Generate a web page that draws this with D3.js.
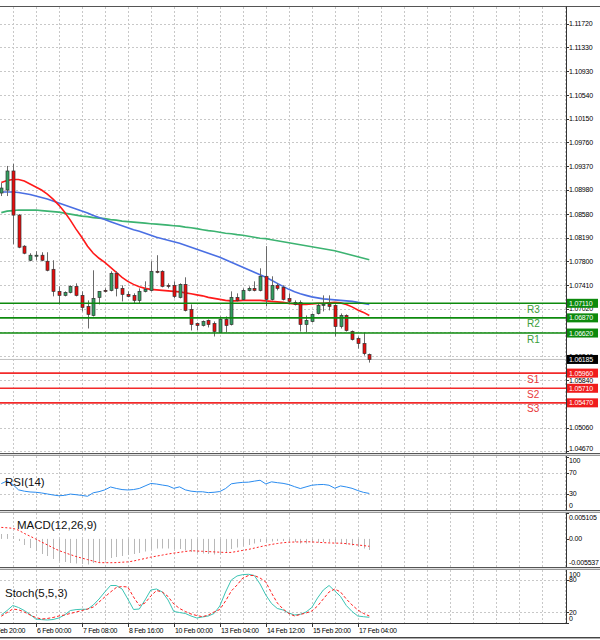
<!DOCTYPE html>
<html><head><meta charset="utf-8">
<script src="https://cdn.jsdelivr.net/npm/d3@7"></script>
<style>
body{margin:0;background:#fff;}
svg{display:block;font-family:"Liberation Sans",Arial,sans-serif;}
</style>
</head><body>
<svg id="c" width="600" height="640"></svg>
<script>
// ---------- DATA ----------
const open=[1.08927,1.08976,1.09290,1.08563,1.08051,1.07819,1.07894,1.07902,1.07803,1.07670,
 1.07307,1.07241,1.07290,1.07389,1.07241,1.07059,1.06910,1.07208,1.07323,1.07323,
 1.07604,1.07356,1.07257,1.07241,1.07158,1.07307,1.07323,1.07637,1.07637,1.07406,
 1.07406,1.07208,1.07422,1.07009,1.06778,1.06745,1.06827,1.06778,1.06629,1.06844,
 1.06761,1.07208,1.07174,1.07323,1.07356,1.07323,1.07555,1.07174,1.07406,1.07373,
 1.07191,1.07125,1.07125,1.06761,1.06811,1.06943,1.07075,1.07092,1.07075,1.06728,
 1.06910,1.06645,1.06530,1.06447,1.06265];
const high=[1.09092,1.09373,1.09406,1.08579,1.08067,1.07935,1.07968,1.07951,1.07951,1.07819,
 1.07389,1.07307,1.07406,1.07439,1.07307,1.07158,1.07654,1.07307,1.07356,1.07637,
 1.07637,1.07406,1.07307,1.07274,1.07356,1.07472,1.07803,1.07902,1.07654,1.07439,
 1.07472,1.07439,1.07538,1.07092,1.06794,1.06827,1.06844,1.06811,1.06894,1.06894,
 1.07307,1.07274,1.07356,1.07389,1.07472,1.07687,1.08051,1.07555,1.07439,1.07406,
 1.07274,1.07158,1.07158,1.06910,1.06943,1.07108,1.07241,1.07241,1.07092,1.06943,
 1.06927,1.06662,1.06563,1.06629,1.06282];
const low=[1.08877,1.08877,1.08084,1.08018,1.07918,1.07803,1.07819,1.07803,1.07637,1.07224,
 1.07092,1.07224,1.07274,1.07224,1.06976,1.06695,1.06894,1.07092,1.07290,1.07307,
 1.07224,1.07141,1.07208,1.07108,1.07108,1.07290,1.07307,1.07604,1.07373,1.07356,
 1.07191,1.07191,1.06976,1.06662,1.06662,1.06728,1.06712,1.06563,1.06629,1.06629,
 1.06745,1.07141,1.07158,1.07307,1.07307,1.07307,1.07059,1.07158,1.07323,1.07158,
 1.07108,1.07075,1.06645,1.06629,1.06794,1.06927,1.06976,1.06993,1.06563,1.06695,
 1.06645,1.06497,1.06364,1.06249,1.06133];
const close=[1.09009,1.09290,1.08563,1.08034,1.07935,1.07902,1.07902,1.07819,1.07654,1.07307,
 1.07241,1.07290,1.07389,1.07241,1.07042,1.06927,1.07191,1.07307,1.07315,1.07604,
 1.07356,1.07257,1.07224,1.07158,1.07307,1.07340,1.07637,1.07621,1.07389,1.07389,
 1.07224,1.07422,1.06993,1.06761,1.06745,1.06811,1.06761,1.06645,1.06844,1.06745,
 1.07208,1.07158,1.07323,1.07356,1.07323,1.07555,1.07174,1.07406,1.07356,1.07174,
 1.07141,1.07092,1.06761,1.06827,1.06927,1.07075,1.07092,1.07059,1.06728,1.06910,
 1.06662,1.06513,1.06447,1.06282,1.06185];

const maRed=[1.09100,1.09133,1.09150,1.09150,1.09125,1.09075,1.09026,1.08976,1.08910,1.08827,
 1.08728,1.08613,1.08480,1.08332,1.08199,1.08051,1.07935,1.07852,1.07786,1.07703,
 1.07621,1.07538,1.07472,1.07422,1.07381,1.07356,1.07340,1.07332,1.07323,1.07315,
 1.07307,1.07299,1.07282,1.07266,1.07249,1.07233,1.07208,1.07191,1.07175,1.07158,
 1.07150,1.07150,1.07158,1.07158,1.07158,1.07158,1.07150,1.07142,1.07134,1.07125,
 1.07109,1.07100,1.07092,1.07092,1.07100,1.07109,1.07109,1.07117,1.07125,1.07117,
 1.07092,1.07051,1.07001,1.06960,1.06910];
const maBlue=[1.08943,1.08943,1.08943,1.08935,1.08918,1.08902,1.08877,1.08852,1.08827,1.08794,
 1.08761,1.08728,1.08695,1.08662,1.08629,1.08596,1.08555,1.08522,1.08489,1.08455,
 1.08422,1.08389,1.08356,1.08323,1.08298,1.08265,1.08232,1.08199,1.08175,1.08150,
 1.08125,1.08100,1.08067,1.08034,1.08001,1.07968,1.07935,1.07902,1.07869,1.07827,
 1.07786,1.07745,1.07703,1.07662,1.07621,1.07580,1.07538,1.07489,1.07439,1.07389,
 1.07340,1.07299,1.07266,1.07241,1.07216,1.07200,1.07183,1.07175,1.07167,1.07158,
 1.07150,1.07142,1.07125,1.07109,1.07092];
const maGreen=[1.08604,1.08629,1.08637,1.08646,1.08646,1.08646,1.08646,1.08637,1.08629,1.08620,
 1.08612,1.08596,1.08579,1.08563,1.08546,1.08538,1.08522,1.08513,1.08505,1.08489,
 1.08480,1.08464,1.08456,1.08447,1.08439,1.08431,1.08422,1.08414,1.08406,1.08398,
 1.08389,1.08381,1.08365,1.08356,1.08340,1.08323,1.08307,1.08298,1.08282,1.08265,
 1.08257,1.08241,1.08232,1.08216,1.08199,1.08183,1.08175,1.08158,1.08141,1.08125,
 1.08108,1.08092,1.08075,1.08059,1.08042,1.08026,1.08009,1.07993,1.07976,1.07951,
 1.07927,1.07902,1.07877,1.07852,1.07828];

const rsi=[49.4,54.2,47.6,37.4,34.9,33.4,32.8,31.5,29.6,27.7,
 26.2,26.9,29.4,28.2,26.9,25.2,31.9,34.0,37.4,42.9,
 40.1,38.0,37.2,38.0,40.1,44.9,49.6,48.5,46.6,44.9,
 40.3,43.1,37.4,34.9,33.8,33.8,32.1,32.8,34.2,39.9,
 48.9,50.6,51.7,52.1,54.0,55.7,48.7,52.7,51.1,49.8,
 47.5,43.5,39.9,43.1,46.2,47.3,47.7,46.2,40.5,44.9,
 42.9,40.3,36.1,32.6,30.6];

const macdMain=[0.000966,0.000966,0.000571,-0.000414,-0.001202,-0.001793,-0.002385,-0.002976,-0.003370,-0.003961,
 -0.004356,-0.004553,-0.004750,-0.004848,-0.004946,-0.005045,-0.004750,-0.004553,-0.004257,-0.003764,
 -0.003567,-0.003370,-0.003173,-0.002976,-0.002779,-0.002483,-0.002089,-0.001892,-0.001892,-0.001892,
 -0.001990,-0.001990,-0.002286,-0.002582,-0.002779,-0.002877,-0.002976,-0.003074,-0.003074,-0.002779,
 -0.001990,-0.001695,-0.001399,-0.001202,-0.000907,-0.000611,-0.000709,-0.000512,-0.000414,-0.000414,
 -0.000512,-0.000611,-0.000907,-0.000907,-0.000808,-0.000709,-0.000611,-0.000611,-0.000907,-0.000907,
 -0.001104,-0.001301,-0.001596,-0.001892,-0.002187];
const macdSignal=[0.002266,0.002187,0.002089,0.001714,0.001084,0.000532,-0.000020,-0.000611,-0.001182,-0.001754,
 -0.002286,-0.002700,-0.003094,-0.003468,-0.003784,-0.004079,-0.004375,-0.004671,-0.004690,-0.004690,
 -0.004671,-0.004592,-0.004533,-0.004355,-0.004099,-0.003863,-0.003587,-0.003390,-0.003192,-0.002976,
 -0.002798,-0.002641,-0.002483,-0.002325,-0.002385,-0.002444,-0.002503,-0.002562,-0.002621,-0.002680,
 -0.002660,-0.002463,-0.002266,-0.002069,-0.001813,-0.001557,-0.001301,-0.001084,-0.000907,-0.000749,
 -0.000650,-0.000611,-0.000591,-0.000552,-0.000591,-0.000670,-0.000729,-0.000788,-0.000828,-0.000847,
 -0.000926,-0.001064,-0.001202,-0.001320,-0.001458];

const stochMain=[14.9,23.2,32.5,28.8,23.2,15.8,7.4,6.3,5.6,6.5,
 9.3,14.9,23.2,24.9,25.5,25.5,33.5,44.6,57.6,69.7,
 69.7,63.2,44.6,25.1,26.0,42.8,61.3,63.2,57.6,42.8,
 21.4,19.5,17.7,13.0,9.3,11.2,13.0,17.7,31.6,57.6,
 79.9,87.4,90.0,90.5,88.3,72.5,52.0,36.2,27.0,24.2,
 18.6,14.9,16.2,20.4,28.8,46.5,61.3,69.7,59.5,49.3,
 32.5,21.4,13.0,11.7,10.6];
const stochSignal=[12.6,19.5,26.0,24.5,20.4,14.9,10.2,7.4,8.4,10.2,
 13.0,14.9,17.7,20.4,23.2,26.0,29.7,39.0,48.3,57.6,
 66.0,67.8,66.9,48.3,32.5,37.2,50.2,60.4,57.6,49.3,
 35.3,27.0,21.4,16.7,13.9,11.7,14.9,20.4,25.1,40.9,
 59.5,70.6,83.6,88.3,88.3,83.6,76.2,55.8,37.2,26.0,
 17.7,13.0,15.8,18.6,22.3,31.6,44.6,57.6,63.2,57.6,
 44.6,33.5,24.2,17.7,13.0];

const priceTicks=[1.11720,1.11330,1.10930,1.10540,1.10150,1.09760,1.09370,1.08980,1.08580,1.08190,
 1.07800,1.07410,1.07020,1.06630,1.06240,1.05840,1.05450,1.05060,1.04670];
const timeTickBars=[-2,6,14,22,30,38,46,54,62];
const timeTickLabels=["5 Feb 20:00","6 Feb 00:00","7 Feb 08:00","8 Feb 16:00","10 Feb 00:00","13 Feb 04:00","14 Feb 12:00","15 Feb 20:00","17 Feb 04:00"];
const levelNames=["R3","R2","R1","S1","S2","S3"];
const levelValues=[1.07110,1.06870,1.06620,1.05960,1.05710,1.05470];
const lastPrice=1.06185;
const rsiTicks=[100,70,30,0], rsiLevels=[70,30];
const macdTicks=[0.005105,0.00,-0.005537], macdTickLabels=["0.005105","0.00","-0.005537"];
const stochTicks=[100,80,20,0], stochLevels=[80,20];

// ---------- LAYOUT ----------
const AX=566;
const P={main:[7,453],rsi:[456,510],macd:[513,567],stoch:[570,623]};
const svg=d3.select("#c");
const x=d3.scaleLinear().domain([0,64]).range([1.3,369.3]);
const yP=d3.scaleLinear().domain([1.0467,1.1172]).range([451.4,23.5]);
const yR=d3.scaleLinear().domain([0,100]).range([509.5,457]);
const yM=d3.scaleLinear().domain([-0.005537,0.005105]).range([567,513]);
const yS=d3.scaleLinear().domain([0,100]).range([623,569.2]);
const idx=d3.range(open.length);
const gridBars=d3.range(2,99,4);

const defs=svg.append("defs");
Object.entries(P).forEach(([k,[t,b]])=>{
  defs.append("clipPath").attr("id","clip-"+k).append("rect").attr("x",0).attr("y",t).attr("width",AX).attr("height",b-t);
});
const GRID="#c8c8c8";
function vgrid(g,t,b){
  g.selectAll(null).data(gridBars).join("line")
   .attr("x1",d=>Math.round(x(d))+0.5).attr("x2",d=>Math.round(x(d))+0.5)
   .attr("y1",t).attr("y2",b).attr("stroke",GRID).attr("stroke-dasharray","2,2");
}
function hgrid(g,vals,sc){
  g.selectAll(null).data(vals).join("line")
   .attr("x1",0).attr("x2",AX).attr("y1",d=>Math.round(sc(d))+0.5).attr("y2",d=>Math.round(sc(d))+0.5)
   .attr("stroke",GRID).attr("stroke-dasharray","2,2");
}
function rlabels(vals,sc,t,b,fmt){
  const g=svg.append("g");
  vals.forEach((v,i)=>{
    const yy=Math.max(t+4,Math.min(b-4.5,sc(v)));
    g.append("line").attr("x1",AX).attr("x2",AX+3).attr("y1",Math.round(sc(v))+0.5).attr("y2",Math.round(sc(v))+0.5).attr("stroke","#333");
    g.append("text").attr("x",569).attr("y",yy+2.5).attr("font-size",7).attr("letter-spacing",-0.2)
     .attr("fill","#000").text(fmt(v,i));
  });
}

// ---------- MAIN PANEL ----------
const gm=svg.append("g").attr("clip-path","url(#clip-main)");
vgrid(gm,P.main[0],P.main[1]);
hgrid(gm,priceTicks,yP);
gm.append("line").attr("x1",0).attr("x2",AX).attr("y1",yP(lastPrice)).attr("y2",yP(lastPrice)).attr("stroke","#c0c0c0");

const lineP=arr=>d3.line().x((d,i)=>x(i)).y(d=>yP(d))(arr);
[[maGreen,"#3cb371"],[maBlue,"#4a6fe3"],[maRed,"#ff1a1a"]].forEach(([a,c])=>{
  gm.append("path").attr("d",lineP(a)).attr("fill","none").attr("stroke",c).attr("stroke-width",1.6);
});

const gc=gm.append("g");
gc.selectAll("line.w").data(idx).join("line").attr("class","w")
  .attr("x1",i=>Math.round(x(i))+0.5).attr("x2",i=>Math.round(x(i))+0.5)
  .attr("y1",i=>yP(high[i])).attr("y2",i=>yP(low[i])).attr("stroke","#6a6a6a").attr("stroke-width",1);
gc.selectAll("rect").data(idx).join("rect")
  .attr("x",i=>Math.round(x(i))-1).attr("width",3)
  .attr("y",i=>Math.min(yP(open[i]),yP(close[i])))
  .attr("height",i=>Math.max(1,Math.abs(yP(open[i])-yP(close[i]))))
  .attr("fill",i=>close[i]>=open[i]?"#33a060":"#e80c0c")
  .attr("stroke","#333").attr("stroke-width",0.7);

// levels
levelValues.forEach((v,i)=>{
  const res=levelNames[i][0]==="R";
  gm.append("line").attr("x1",0).attr("x2",AX).attr("y1",yP(v)).attr("y2",yP(v))
    .attr("stroke",res?"#0d8a0d":"#f22a2a").attr("stroke-width",1.6);
  gm.append("text").attr("x",527).attr("y",yP(v)+9.5).attr("font-size",10)
    .attr("fill",res?"#3a9e3a":"#e83a3a").text(levelNames[i]);
});

// price axis labels
rlabels(priceTicks,yP,P.main[0],P.main[1],v=>v.toFixed(5));
const boxes=[...levelValues.map((v,i)=>[v,levelNames[i][0]==="R"?"#0d8a0d":"#f01c1c"]),[lastPrice,"#000"]];
boxes.forEach(([v,c])=>{
  const yy=yP(v);
  svg.append("rect").attr("x",567).attr("y",yy-4.5).attr("width",31).attr("height",9).attr("fill",c);
  svg.append("text").attr("x",569).attr("y",yy+2.5).attr("font-size",7).attr("letter-spacing",-0.2)
    .attr("fill","#fff").text(v.toFixed(5));
});

// ---------- RSI ----------
const gr=svg.append("g").attr("clip-path","url(#clip-rsi)");
vgrid(gr,P.rsi[0],P.rsi[1]);
hgrid(gr,rsiLevels,yR);
gr.append("path").attr("d",d3.line().x((d,i)=>x(i)).y(d=>yR(d))(rsi)).attr("fill","none").attr("stroke","#2a8cf0").attr("stroke-width",1);
svg.append("text").attr("x",5).attr("y",486).attr("font-size",11.5).attr("fill","#111").text("RSI(14)");
rlabels(rsiTicks,yR,P.rsi[0],P.rsi[1],v=>String(v));

// ---------- MACD ----------
const gd=svg.append("g").attr("clip-path","url(#clip-macd)");
vgrid(gd,P.macd[0],P.macd[1]);
gd.selectAll("line.h").data(idx).join("line").attr("class","h")
  .attr("x1",i=>Math.round(x(i))+0.5).attr("x2",i=>Math.round(x(i))+0.5)
  .attr("y1",yM(0)).attr("y2",i=>yM(macdMain[i])).attr("stroke","#b8b8b8").attr("stroke-width",1);
gd.append("path").attr("d",d3.line().x((d,i)=>x(i)).y(d=>yM(d))(macdSignal)).attr("fill","none")
  .attr("stroke","#ff2020").attr("stroke-width",1).attr("stroke-dasharray","2,2");
svg.append("text").attr("x",17).attr("y",528.5).attr("font-size",11.5).attr("fill","#111").text("MACD(12,26,9)");
rlabels(macdTicks,yM,P.macd[0],P.macd[1],(v,i)=>macdTickLabels[i]);

// ---------- STOCH ----------
const gs=svg.append("g").attr("clip-path","url(#clip-stoch)");
vgrid(gs,P.stoch[0],P.stoch[1]);
hgrid(gs,stochLevels,yS);
gs.append("path").attr("d",d3.line().x((d,i)=>x(i)).y(d=>yS(d))(stochMain)).attr("fill","none").attr("stroke","#3cc4b4").attr("stroke-width",1);
gs.append("path").attr("d",d3.line().x((d,i)=>x(i)).y(d=>yS(d))(stochSignal)).attr("fill","none")
  .attr("stroke","#ff2020").attr("stroke-width",1).attr("stroke-dasharray","3,2");
svg.append("text").attr("x",5).attr("y",596.5).attr("font-size",11.5).attr("fill","#111").text("Stoch(5,5,3)");
rlabels(stochTicks,yS,P.stoch[0],P.stoch[1],v=>String(v));

// ---------- FRAMES ----------
svg.append("line").attr("x1",0).attr("x2",600).attr("y1",6.5).attr("y2",6.5).attr("stroke","#555");
svg.append("line").attr("x1",AX+0.5).attr("x2",AX+0.5).attr("y1",6.5).attr("y2",623.5).attr("stroke","#333");
[453,510,567].forEach(b=>{
  svg.append("rect").attr("x",0).attr("y",b).attr("width",600).attr("height",3).attr("fill","#e0e0e0");
  svg.append("line").attr("x1",0).attr("x2",600).attr("y1",b+0.5).attr("y2",b+0.5).attr("stroke","#555");
  svg.append("line").attr("x1",0).attr("x2",600).attr("y1",b+2.5).attr("y2",b+2.5).attr("stroke","#999");
});
svg.append("line").attr("x1",0).attr("x2",AX+1).attr("y1",623.5).attr("y2",623.5).attr("stroke","#333");
svg.append("line").attr("x1",0).attr("x2",600).attr("y1",637.5).attr("y2",637.5).attr("stroke","#444").attr("stroke-width",1);
svg.append("line").attr("x1",0).attr("x2",600).attr("y1",638.5).attr("y2",638.5).attr("stroke","#aaa").attr("stroke-width",1);

// time axis
const gt=svg.append("g");
timeTickBars.forEach((b,i)=>{
  const xx=Math.round(x(b))+0.5;
  gt.append("line").attr("x1",xx).attr("x2",xx).attr("y1",623.5).attr("y2",627).attr("stroke","#333");
  gt.append("text").attr("x",xx+0.5).attr("y",632.5).attr("font-size",7).attr("letter-spacing",-0.3)
    .attr("fill","#000").text(timeTickLabels[i]);
});
</script>
</body></html>
